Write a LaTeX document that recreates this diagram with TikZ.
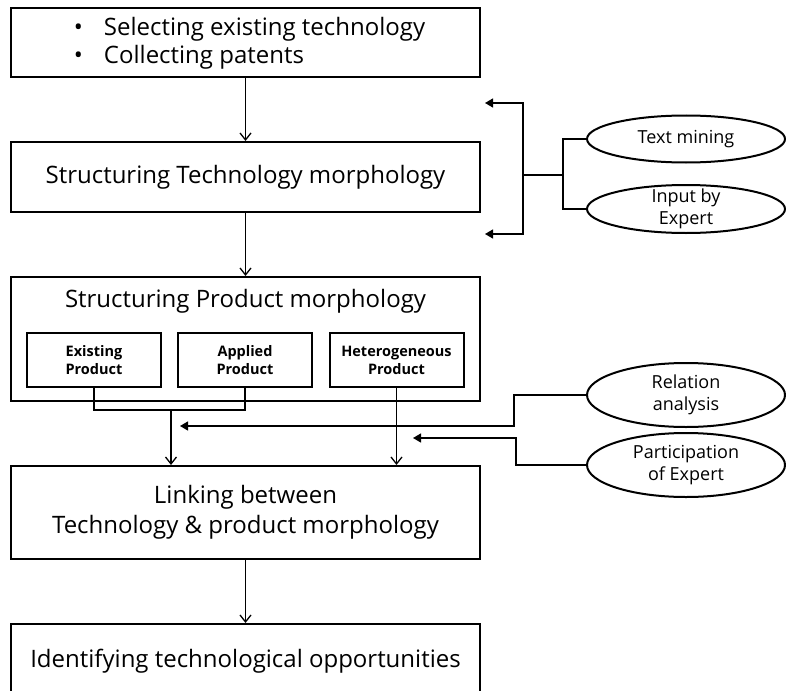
\documentclass[tikz,border=0pt]{standalone}
\usepackage{fontspec}
\setmainfont{Open Sans}
\usetikzlibrary{positioning,shapes.geometric,arrows.meta}

\begin{document}
\begin{tikzpicture}[x=1pt,y=1pt,node distance=63pt,line width=1.3pt,
    box/.style={draw,line width=2pt,minimum width=469pt,align=center,font=\fontsize{24}{30}\selectfont},
    inbox/.style={draw,line width=2pt,minimum width=134pt,minimum height=54pt,align=center,font=\bfseries\fontsize{14.5}{18}\selectfont},
    oval/.style={ellipse,draw,line width=2pt,minimum width=198pt,inner sep=0pt},
    ovaltext/.style={align=center,font=\fontsize{18}{22}\selectfont},
    flow/.style={-{Straight Barb[length=7pt,width=11pt]}},
    feed/.style={-{Triangle[length=8pt,width=9pt]}},
    twofeed/.style={{Triangle[length=8pt,width=9pt]}-{Triangle[length=8pt,width=9pt]}}]
    \useasboundingbox (0,0) rectangle (786,-690);
    \clip (0,0) rectangle (786,-690);

    % main column
    \node[box,minimum height=69pt] (select) at (245.5,-42.5) {};
    \node[align=left,anchor=west,font=\fontsize{24}{28}\selectfont] (selecttext) at (70,-43)
        {\makebox[30pt][l]{\textbullet}Selecting existing technology\\
         \makebox[30pt][l]{\textbullet}Collecting patents};
    \node[box,minimum height=70pt,below=of select] (techmorph) {Structuring Technology morphology};
    \node[box,minimum height=124pt,below=of techmorph] (prodmorph) {};
    \node[box,minimum height=93pt,below=of prodmorph] (linking) {Linking between\\Technology \& product morphology};
    \node[box,minimum height=75pt,below=of linking] (identify) {Identifying technological opportunities};

    % inside the product box
    \node[font=\fontsize{24}{30}\selectfont] (prodtitle) at (245.5,-301) {Structuring Product morphology};
    \node[inbox] (exist) at (94,-360) {Existing\\Product};
    \node[inbox] (appl) at (245,-360) {Applied\\Product};
    \node[inbox] (hetero) at (396.5,-360) {Heterogeneous\\Product};

    % methods on the right
    \node[oval,minimum height=47pt,label={[ovaltext]center:Text mining}] (textmine) at (686,-139) {};
    \node[oval,minimum height=48pt,label={[ovaltext]center:Input by\\Expert}] (inputexp) at (686,-209) {};
    \node[oval,minimum height=64pt,label={[ovaltext]center:Relation\\analysis}] (relation) at (686,-395) {};
    \node[oval,minimum height=64pt,label={[ovaltext]center:Participation\\of Expert}] (particip) at (686,-465) {};

    \coordinate (fbtop) at (485,-103);
    \coordinate (fbbot) at (485,-234);
    \coordinate (fork) at (523,-175);
    \coordinate (split) at (563,-175);
    \coordinate (join) at (171,-410);
    \coordinate (relin) at (180,-426);
    \coordinate (partin) at (413,-438);

    \path[flow]
    (select) edge (techmorph)
    (techmorph) edge (prodmorph)
    (linking) edge (identify);

    \draw (exist.south) |- (join) -| (appl.south);
    \draw[flow] (join) -- (join |- linking.north);
    \draw[flow] (hetero.south) -- (hetero.south |- linking.north);

    \draw[twofeed] (fbtop) -| (fork) |- (fbbot);
    \draw (fork) -- (split);
    \draw (textmine.west) -| (split) |- (inputexp.west);

    \draw[feed] (relation.west) -- ++(-72,0) |- (relin);
    \draw[feed] (particip.west) -- ++(-70,0) |- (partin);
\end{tikzpicture}
\end{document}
